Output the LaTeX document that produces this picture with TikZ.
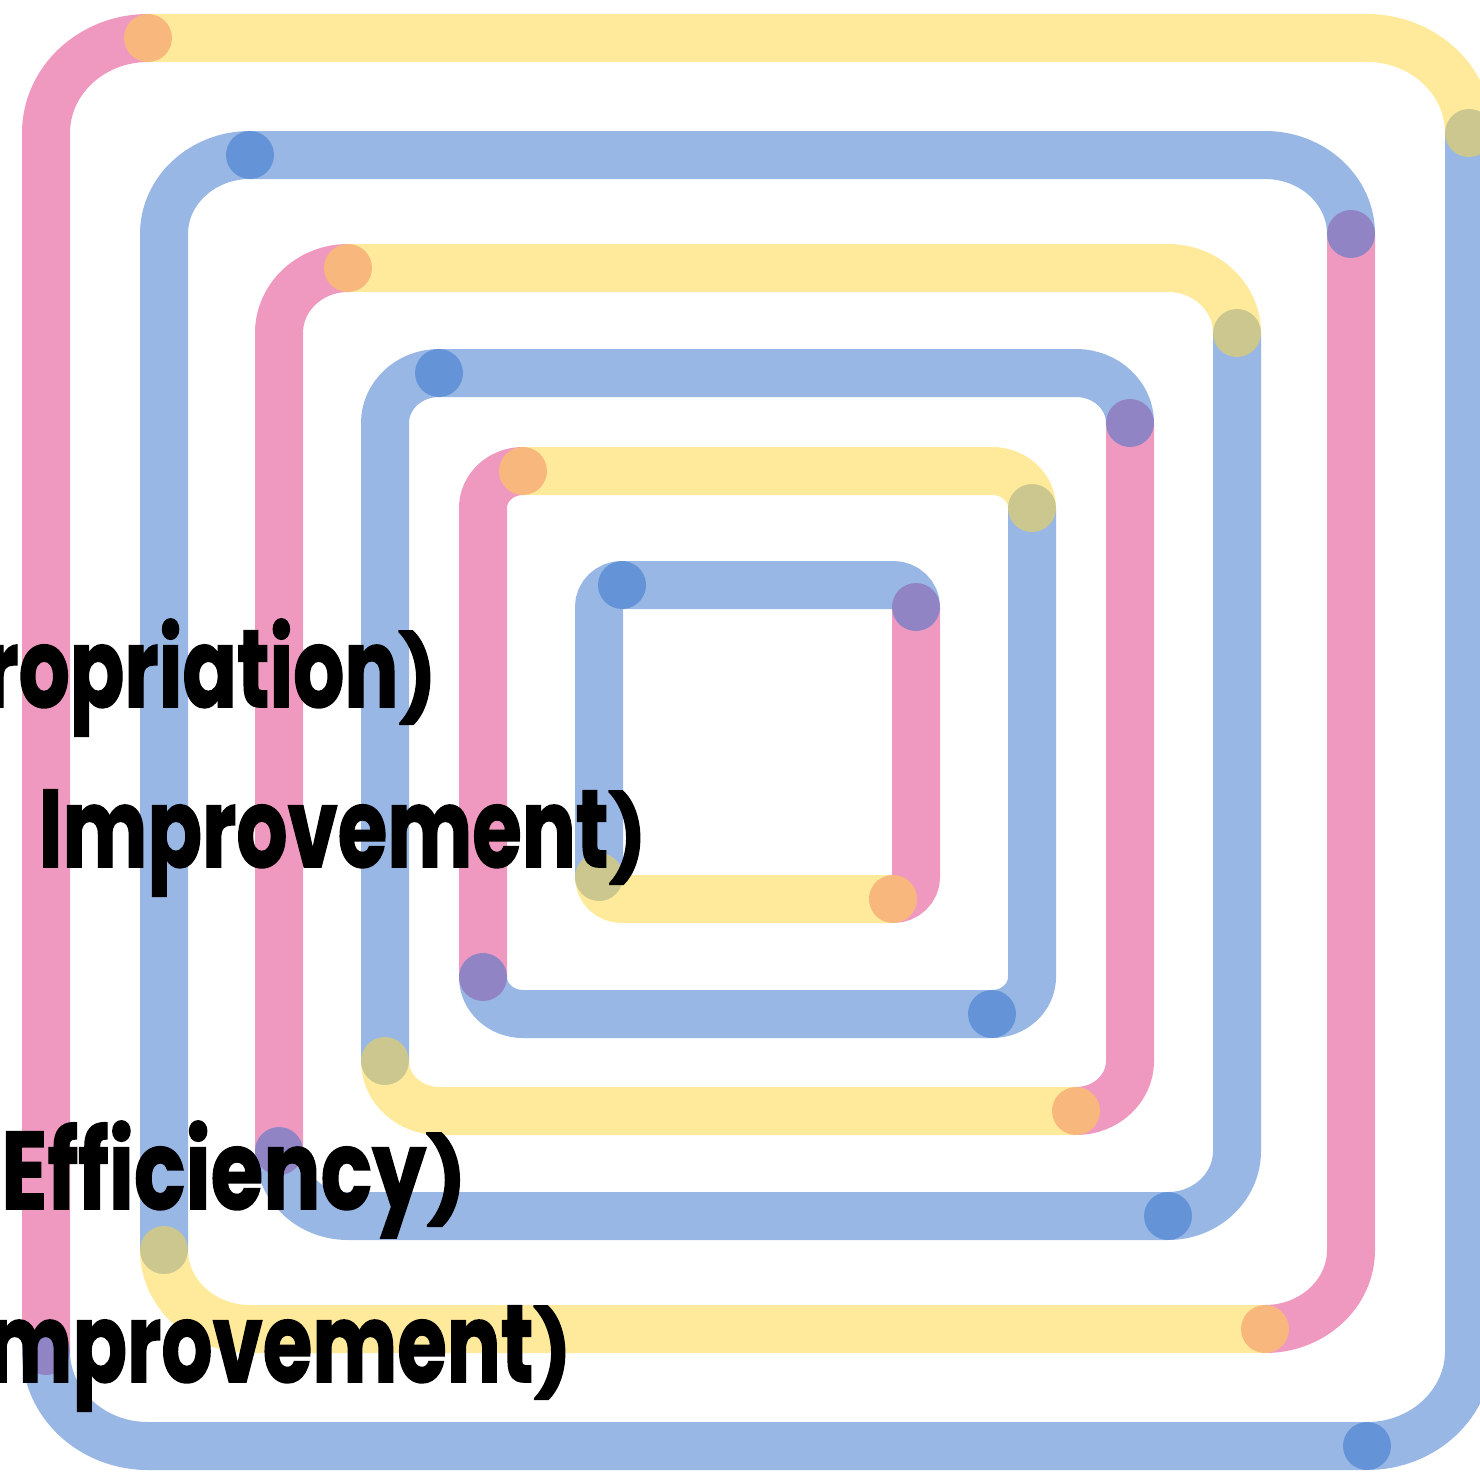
\documentclass[tikz,border=0pt]{standalone}
\usepackage{fontspec}
\setmainfont{Poppins}
\newfontfamily\labfont{Poppins}[BoldFeatures={FakeBold=1.5}]
\definecolor{pinkc}{RGB}{226,52,130}
\definecolor{yelc}{RGB}{255,214,58}
\definecolor{bluec}{RGB}{50,112,202}
\newcommand\K{0.5523}
\newcommand\sideL[1]{\draw[seg,#1] (\L,\B-\ry) -- (\L,\T+\ry) .. controls (\L,\T+\ry-\K*\ry) and (\L+\rx-\K*\rx,\T) .. (\L+\rx,\T);}
\newcommand\sideT[1]{\draw[seg,#1] (\L+\rx,\T) -- (\R-\rx,\T) .. controls (\R-\rx+\K*\rx,\T) and (\R,\T+\ry-\K*\ry) .. (\R,\T+\ry);}
\newcommand\sideR[1]{\draw[seg,#1] (\R,\T+\ry) -- (\R,\B-\ry) .. controls (\R,\B-\ry+\K*\ry) and (\R-\rx+\K*\rx,\B) .. (\R-\rx,\B);}
\newcommand\sideB[1]{\draw[seg,#1] (\R-\rx,\B) -- (\L+\rx,\B) .. controls (\L+\rx-\K*\rx,\B) and (\L,\B-\ry+\K*\ry) .. (\L,\B-\ry);}
\newcommand\rp{\scalebox{1}[0.76]{)}}
\newcommand\lbl[2][0.73]{\scalebox{#1}[1]{\fontsize{110}{110}\labfont\bfseries #2}}
\begin{document}
\begin{tikzpicture}[x=1pt,y=-1pt,
  seg/.style={line width=48pt, line cap=round, opacity=0.5},
  lab/.style={anchor=base east, inner sep=0pt, text=black}]
\useasboundingbox (0,0) rectangle (1480,1472);
\clip (0,0) rectangle (1480,1472);
% type A: left pink, top yellow, right blue, bottom blue
\foreach \L/\T/\R/\B/\rx/\ry in {46/38/1469/1446/102/95, 279/268/1237/1216/69/65, 483/471/1032/1014/40/37}{
  \sideL{pinkc}
  \sideR{bluec}
  \sideB{bluec}
  \sideT{yelc}
}
% type B: left blue, top blue, right pink, bottom yellow
\foreach \L/\T/\R/\B/\rx/\ry in {164/155/1351/1329/86/79, 385/373/1130/1111/54/50, 599/585/916/899/23/22}{
  \sideR{pinkc}
  \sideL{bluec}
  \sideT{bluec}
  \sideB{yelc}
}
\node[lab] (t1) at (437,707) {\lbl{ropriation\rp}};
\node[lab] (t2) at (647,867) {\lbl{Improvement\rp}};
\node[lab] (t3) at (467,1209) {\lbl[0.775]{Efficiency\rp}};
\node[lab] (t4) at (572,1382) {\lbl{mprovement\rp}};
\end{tikzpicture}
\end{document}
